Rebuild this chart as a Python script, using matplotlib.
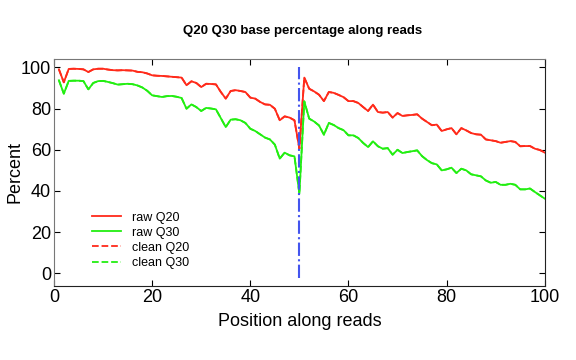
import matplotlib
matplotlib.use("Agg")
import matplotlib.pyplot as plt
import numpy as np

plt.rcParams['font.family'] = ['Liberation Sans', 'DejaVu Sans']

positions = list(range(1, 101))
raw_q20 = [99.0, 92.7, 99.2, 99.3, 99.2, 99.0, 97.7, 99.0, 99.3, 99.3,
           98.9, 98.6, 98.5, 98.6, 98.5, 98.4, 97.8, 97.6, 97.0, 96.1,
           95.9, 95.8, 95.6, 95.4, 95.2, 95.0, 91.3, 93.2, 92.4, 90.4,
           92.0, 91.9, 91.7, 88.0, 84.8, 88.5, 88.9, 88.5, 88.0, 85.3,
           84.8, 83.2, 82.0, 81.8, 79.9, 74.3, 76.2, 75.6, 74.3, 60.5,
           95.0, 89.6, 88.3, 86.7, 83.6, 88.0, 87.6, 86.6, 85.5, 83.6,
           83.6, 82.7, 80.7, 78.8, 81.9, 78.3, 78.0, 78.3, 75.6, 77.8,
           76.4, 76.7, 76.9, 77.2, 75.1, 73.5, 71.9, 72.2, 69.1, 69.9,
           70.5, 67.5, 70.5, 69.4, 68.1, 67.5, 67.3, 65.0, 64.6, 64.2,
           63.4, 63.8, 64.2, 63.8, 61.7, 61.8, 61.8, 60.5, 59.9, 58.6]
raw_q30 = [93.7, 87.2, 93.4, 93.5, 93.5, 93.3, 89.3, 92.4, 93.3, 93.4,
           92.9, 92.3, 91.6, 91.8, 92.0, 91.8, 91.2, 90.2, 88.6, 86.4,
           86.0, 85.6, 86.0, 86.1, 85.7, 85.1, 79.9, 82.0, 80.7, 78.8,
           80.3, 80.0, 79.6, 75.3, 71.0, 74.6, 74.8, 74.3, 73.0, 70.2,
           69.1, 67.5, 65.9, 65.0, 62.5, 55.7, 58.6, 57.3, 56.8, 38.7,
           83.5, 75.1, 73.7, 71.8, 67.3, 73.0, 72.0, 70.5, 69.5, 67.0,
           67.0, 65.7, 63.3, 61.3, 64.1, 61.7, 60.5, 60.8, 57.6, 60.0,
           58.4, 58.9, 59.3, 59.7, 56.9, 55.0, 53.5, 52.9, 50.0, 50.5,
           51.3, 48.7, 50.8, 50.0, 48.1, 47.6, 47.1, 45.1, 44.0, 44.4,
           43.0, 43.0, 43.5, 43.0, 40.8, 40.8, 41.2, 39.5, 37.9, 36.3]
clean_q20 = list(raw_q20)
clean_q30 = list(raw_q30)
split_pos = 50
split_range = [-2, 100]

fig = plt.figure(figsize=(5.76, 3.6), dpi=100)
ax = fig.add_axes([0.09375, 0.206, 0.852, 0.630])

ax.plot(positions, raw_q20, color='#ff2a1a', lw=1.3, label='raw Q20')
ax.plot(positions, raw_q30, color='#22ee11', lw=1.3, label='raw Q30')
ax.plot(positions, clean_q20, color='#ff2a1a', lw=1.3, ls='--', label='clean Q20')
ax.plot(positions, clean_q30, color='#22ee11', lw=1.3, ls='--', label='clean Q30')
ax.plot([split_pos, split_pos], split_range, color='#4455ee', lw=1.5, ls='-.')

ax.set_xlim(0, 100)
ax.set_ylim(-6, 104)
ax.set_xticks([0, 20, 40, 60, 80, 100])
ax.set_yticks([0, 20, 40, 60, 80, 100])
ax.tick_params(direction='in', top=True, right=True, labelsize=13, length=4, width=0.8, pad=2)
for s in ['left', 'top']:
    ax.spines[s].set_color('#777777')
for s in ['bottom', 'right']:
    ax.spines[s].set_color('#222222')

ax.set_xlabel('Position along reads', fontsize=13)
ax.set_ylabel('Percent', fontsize=13)
ax.xaxis.set_label_coords(0.5, -0.12)
ax.yaxis.set_label_coords(-0.063, 0.5)
fig.text(0.525, 0.915, 'Q20 Q30 base percentage along reads', ha='center', va='center',
         fontsize=9.5, fontweight='bold')

ax.legend(loc='lower left', bbox_to_anchor=(0.055, 0.025), frameon=False, fontsize=9,
          handlelength=2.3, labelspacing=0.25, handletextpad=0.9)

fig.savefig('out.png', dpi=100)
